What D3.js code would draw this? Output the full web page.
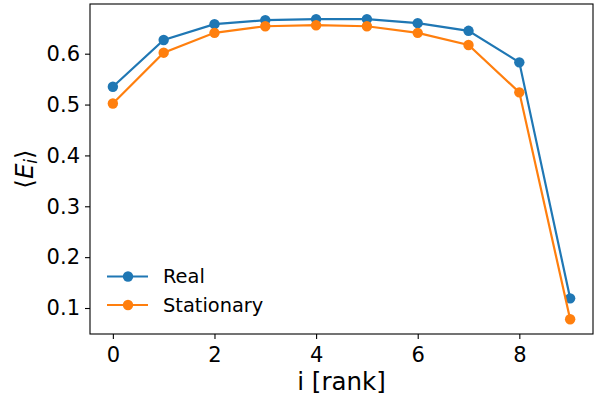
<!DOCTYPE html>
<html><head><meta charset="utf-8">
<script src="https://cdn.jsdelivr.net/npm/d3@7"></script>
<style>body{margin:0;background:#fff}svg{display:block;font-family:"DejaVu Sans",sans-serif}</style>
</head><body><svg id="c" width="594" height="401"></svg>
<script>
const ranks = [0,1,2,3,4,5,6,7,8,9];
const realValues = [0.535,0.627,0.658,0.666,0.668,0.668,0.660,0.645,0.583,0.119];
const stationaryValues = [0.502,0.602,0.641,0.654,0.656,0.654,0.641,0.617,0.524,0.078];
const xTicks = [0,2,4,6,8];
const yTicks = [0.1,0.2,0.3,0.4,0.5,0.6];
const seriesNames = ["Real","Stationary"];
const colors = ["#1f77b4","#ff7f0e"];

const svg = d3.select("#c");
const L=90, R=593, T=4, B=334;
const x = d3.scaleLinear().domain([-0.45,9.45]).range([L,R]);
const y = d3.scaleLinear().domain([0.0489,0.6977]).range([B,T]);

const gx = svg.append("g").attr("transform",`translate(0,${B})`)
  .call(d3.axisBottom(x).tickValues(xTicks).tickSize(5).tickPadding(8).tickFormat(d3.format("d")));
const gy = svg.append("g").attr("transform",`translate(${L},0)`)
  .call(d3.axisLeft(y).tickValues(yTicks).tickSize(5).tickPadding(5).tickFormat(d3.format(".1f")));
[gx,gy].forEach(g=>{
  g.select(".domain").remove();
  g.selectAll("line").attr("stroke","#000").attr("stroke-width",1.1);
  g.selectAll("text").attr("fill","#000").style("font-size","21px").style("font-family","DejaVu Sans");
});
svg.append("rect").attr("x",L).attr("y",T).attr("width",R-L).attr("height",B-T)
  .attr("fill","none").attr("stroke","#000").attr("stroke-width",1.1);

const series = [realValues, stationaryValues];
series.forEach((vals,k)=>{
  const line = d3.line().x((d,i)=>x(ranks[i])).y(d=>y(d));
  svg.append("path").datum(vals).attr("d",line).attr("fill","none")
    .attr("stroke",colors[k]).attr("stroke-width",2.2);
  svg.selectAll(null).data(vals).enter().append("circle")
    .attr("cx",(d,i)=>x(ranks[i])).attr("cy",d=>y(d)).attr("r",5.2).attr("fill",colors[k]);
});

// legend
const lg = svg.append("g");
seriesNames.forEach((n,k)=>{
  const yy = 276.5 + k*28.5;
  lg.append("line").attr("x1",107).attr("x2",148).attr("y1",yy).attr("y2",yy)
    .attr("stroke",colors[k]).attr("stroke-width",2.2);
  lg.append("circle").attr("cx",128).attr("cy",yy).attr("r",5.2).attr("fill",colors[k]);
  lg.append("text").attr("x",163).attr("y",yy).attr("dy","0.36em").style("font-size","19.4px").text(n);
});

// axis labels
svg.append("text").attr("x",(L+R)/2).attr("y",389.5).attr("text-anchor","middle")
  .style("font-size","24.5px").text("i [rank]");
const yl = svg.append("text").attr("transform",`translate(33,${(T+B)/2}) rotate(-90)`)
  .attr("text-anchor","middle").style("font-size","24.5px");
yl.append("tspan").text("⟨");
yl.append("tspan").style("font-style","italic").text("E");
yl.append("tspan").style("font-style","italic").style("font-size","17px").attr("dy","4").text("i");
yl.append("tspan").attr("dy","-4").text("⟩");
</script></body></html>
